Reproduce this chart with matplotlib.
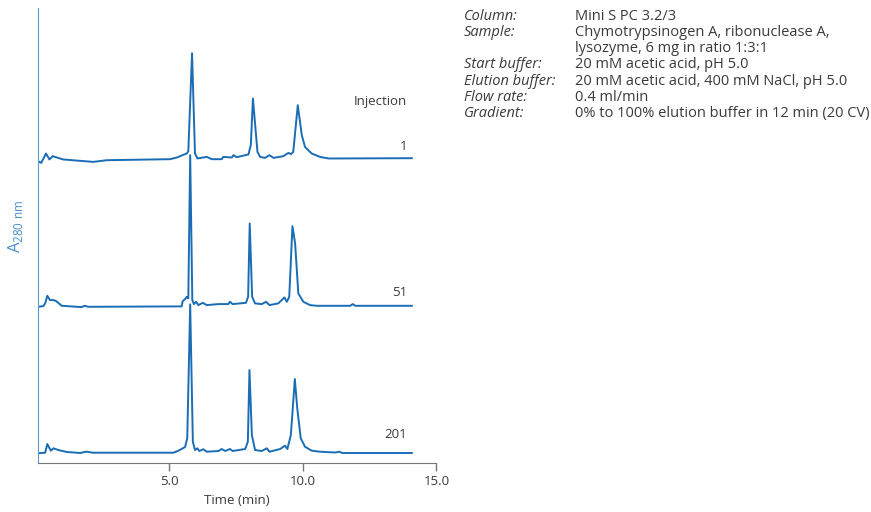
import matplotlib.pyplot as plt

# Chromatograms (time in min, absorbance in arbitrary units above each trace baseline)
t_inj1 = [0.06, 0.20, 0.38, 0.51, 0.63, 1.03, 2.15, 2.66, 5.03, 5.28, 5.65, 5.71, 5.85, 5.96,
          6.05, 6.40, 6.59, 6.96, 7.02, 7.34, 7.40, 7.52, 7.73, 7.96, 8.05, 8.13, 8.30, 8.40,
          8.58, 8.75, 8.90, 9.27, 9.46, 9.55, 9.64, 9.81, 9.96, 10.08, 10.33, 10.64, 10.96, 14.08]
a_inj1 = [-2.7, -4.7, 4.7, -1.3, 2.0, -1.3, -3.7, -2.0, -1.0, 0.7, 4.7, 7.0, 105.0, 4.7,
          -0.3, 1.3, -1.0, -1.0, 1.3, 0.7, 3.0, 1.0, 2.3, 3.7, 13.0, 59.7, 6.3, 1.3,
          0.3, 3.0, 0.3, 2.0, 5.3, 4.0, 6.3, 53.0, 23.0, 11.3, 4.7, 1.3, -0.3, 0.0]

t_inj51 = [0.09, 0.28, 0.35, 0.43, 0.53, 0.66, 0.76, 0.97, 1.72, 1.82, 1.97, 5.46, 5.50, 5.59,
           5.65, 5.71, 5.78, 5.86, 5.92, 6.00, 6.09, 6.25, 6.40, 6.84, 7.21, 7.27, 7.37, 7.87,
           7.95, 8.01, 8.10, 8.21, 8.46, 8.62, 8.75, 9.08, 9.31, 9.40, 9.49, 9.61, 9.71, 9.83,
           10.02, 10.27, 10.52, 11.77, 11.87, 11.96, 14.08]
a_inj51 = [-1.0, -0.3, 2.4, 10.0, 5.7, 5.7, 4.7, 0.0, -1.3, 0.0, -1.0, -0.6, 4.7, 6.7,
           9.0, 7.4, 150.7, 5.7, 1.7, 4.0, 0.7, 3.0, 0.7, 1.7, 1.7, 4.0, 1.7, 3.0,
           9.0, 82.4, 9.0, 2.4, 1.7, 4.0, 0.7, 2.4, 8.4, 4.0, 9.0, 79.7, 62.4, 12.4,
           4.0, 0.7, 0.0, 0.0, 1.7, 0.0, 0.0]

t_inj201 = [0.06, 0.35, 0.43, 0.56, 0.66, 0.84, 1.16, 1.66, 1.88, 2.15, 5.15, 5.34, 5.59, 5.67,
            5.78, 5.88, 5.96, 6.05, 6.12, 6.27, 6.40, 6.84, 6.96, 7.09, 7.27, 7.37, 7.84, 7.94,
            8.00, 8.09, 8.21, 8.46, 8.65, 8.75, 9.15, 9.33, 9.42, 9.55, 9.70, 9.79, 9.92, 10.08,
            10.33, 10.64, 11.21, 11.37, 11.47, 14.08]
a_inj201 = [-0.3, 0.3, 9.0, 2.3, 4.7, 3.0, 1.0, 0.0, 1.3, 0.3, 0.3, 2.3, 6.0, 14.7,
            148.7, 11.3, 3.0, 4.7, 2.0, 3.7, 1.3, 2.0, 4.0, 2.0, 4.0, 2.0, 4.0, 11.3,
            83.0, 18.0, 3.0, 2.0, 4.7, 1.3, 4.0, 7.3, 4.0, 18.0, 74.0, 44.7, 14.7, 6.3,
            2.3, 1.3, 0.5, 1.3, 0.0, 0.0]

inj_labels = ["1", "51", "201"]
x_ticks = [5.0, 10.0, 15.0]

cond_keys = ["Column:", "Sample:", "", "Start buffer:", "Elution buffer:", "Flow rate:", "Gradient:"]
cond_vals = ["Mini S PC 3.2/3",
             "Chymotrypsinogen A, ribonuclease A,",
             "lysozyme, 6 mg in ratio 1:3:1",
             "20 mM acetic acid, pH 5.0",
             "20 mM acetic acid, 400 mM NaCl, pH 5.0",
             "0.4 ml/min",
             "0% to 100% elution buffer in 12 min (20 CV)"]

plt.rcParams['font.family'] = ['Open Sans', 'DejaVu Sans']
line_col = '#1a6db5'
text_col = '#3a3a3a'

fig = plt.figure(figsize=(8.71, 5.12), dpi=100)
ax = fig.add_axes([0.0433, 0.0963, 0.4577, 0.8881])

# vertical offsets stack the three runs
offsets = [304.7, 157.0, 9.7]
traces = [(t_inj1, a_inj1), (t_inj51, a_inj51), (t_inj201, a_inj201)]
for (t, a), off, lab, ly in zip(traces, offsets, inj_labels, [12, 13, 19]):
    ax.plot(t, [v + off for v in a], color=line_col, lw=1.4, solid_joinstyle='round')
    ax.text(13.9, off + ly, lab, ha='right', va='center', fontsize=9.5, color=text_col)
ax.text(13.9, offsets[0] + 56.5, "Injection", ha='right', va='center', fontsize=9.5, color=text_col)

ax.set_xlim(0.07, 15.0)
ax.set_ylim(0, 455)
ax.set_xticks(x_ticks)
ax.set_xticklabels([f"{v:.1f}" for v in x_ticks], fontsize=9.5, color=text_col)
ax.set_yticks([])
ax.tick_params(axis='x', direction='out', length=6, width=1, color='#777777', pad=3)
ax.spines['top'].set_visible(False)
ax.spines['right'].set_visible(False)
ax.spines['bottom'].set_color('#777777')
ax.spines['left'].set_color('#5b9bd5')
ax.set_xlabel("Time (min)", fontsize=9.5, color=text_col, labelpad=4)
fig.text(0.018, 0.558, r'A$_{\mathregular{280\ nm}}$', rotation=90, ha='center', va='center',
         fontsize=12, color='#4a8fd0')

# run conditions
y0 = 1 - 16.7 / 512
dy = 16.1 / 512
for i, (k, v) in enumerate(zip(cond_keys, cond_vals)):
    yy = y0 - i * dy
    if k:
        fig.text(464 / 871, yy, k, ha='left', va='center', fontsize=10.5, style='italic', color=text_col)
    fig.text(575 / 871, yy, v, ha='left', va='center', fontsize=10.5, color=text_col)

fig.savefig("out.png", dpi=100)
